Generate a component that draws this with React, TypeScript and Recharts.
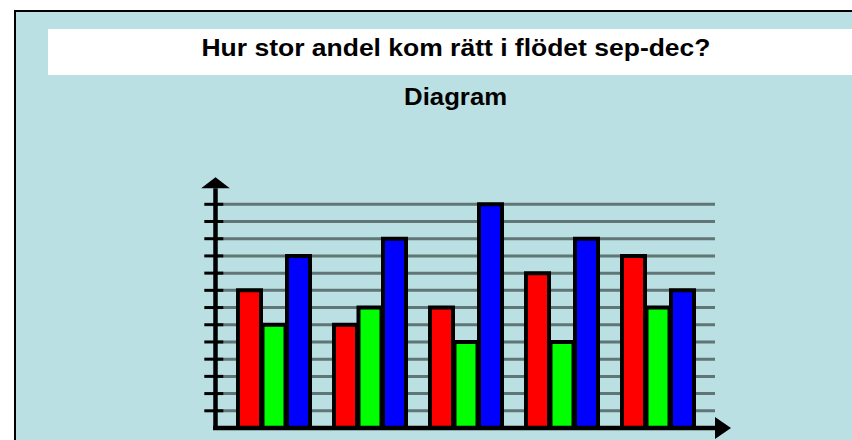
import React from 'react';
import { BarChart, Bar, XAxis, YAxis, CartesianGrid, Label } from 'recharts';

const categories = ['Grupp 1', 'Grupp 2', 'Grupp 3', 'Grupp 4', 'Grupp 5'];
const redValues = [8, 6, 7, 9, 10];
const greenValues = [6, 7, 5, 5, 7];
const blueValues = [10, 11, 13, 11, 8];
const yTicks = [1, 2, 3, 4, 5, 6, 7, 8, 9, 10, 11, 12, 13];
const titleText = 'Hur stor andel kom rätt i flödet sep-dec?';
const subtitleText = 'Diagram';

const data = categories.map((name, i) => ({
  name,
  red: redValues[i],
  green: greenValues[i],
  blue: blueValues[i],
}));

const BG = '#bbe0e3';
const GRID = '#607575';
const FONT = '"Liberation Sans", Arial, sans-serif';

const YTick = (props: any) => {
  const { x, y } = props;
  return <line x1={x - 11.2} x2={x + 7.8} y1={y} y2={y} stroke="#000" strokeWidth={3} />;
};

const YAxisArrow = (props: any) => {
  const vb = props.viewBox || {};
  const ax = vb.x + vb.width;
  const top = vb.y;
  const bottom = vb.y + vb.height;
  return (
    <g>
      <line x1={ax} x2={ax} y1={bottom + 2} y2={top - 16} stroke="#000" strokeWidth={4.5} />
      <polygon points={`${ax - 14.3},${top - 16} ${ax},${top - 27} ${ax + 14.3},${top - 16}`} fill="#000" />
    </g>
  );
};

const XAxisArrow = (props: any) => {
  const vb = props.viewBox || {};
  const ay = vb.y;
  const left = vb.x;
  const right = vb.x + vb.width;
  return (
    <g>
      <line x1={left - 2.5} x2={right + 1} y1={ay} y2={ay} stroke="#000" strokeWidth={4.5} />
      <polygon points={`${right},${ay - 11} ${right + 16},${ay} ${right},${ay + 11}`} fill="#000" />
    </g>
  );
};

export default function App() {
  return (
    <div style={{ position: 'absolute', left: 0, top: 0, width: 852, height: 440, overflow: 'hidden', background: '#fff' }}>
      <div
        style={{
          position: 'absolute',
          left: 14,
          top: 10,
          width: 900,
          height: 500,
          background: BG,
          borderLeft: '2px solid #000',
          borderTop: '2px solid #000',
        }}
      />
      <div style={{ position: 'absolute', left: 48, top: 29, width: 820, height: 46, background: '#fff' }} />
      <svg style={{ position: 'absolute', left: 0, top: 0 }} width={852} height={120}>
        <text
          x={456}
          y={55.7}
          textAnchor="middle"
          fontFamily={FONT}
          fontWeight="bold"
          fontSize={23}
          fill="#000"
          textLength={509}
          lengthAdjust="spacingAndGlyphs"
        >
          {titleText}
        </text>
        <text
          x={455.6}
          y={105}
          textAnchor="middle"
          fontFamily={FONT}
          fontWeight="bold"
          fontSize={23}
          fill="#000"
          textLength={103}
          lengthAdjust="spacingAndGlyphs"
        >
          {subtitleText}
        </text>
      </svg>
      <div style={{ position: 'absolute', left: 0, top: 0 }}>
        <BarChart
          width={852}
          height={440}
          data={data}
          margin={{ top: 204.3, right: 137, bottom: 0, left: 195.5 }}
          barGap={1.5}
        >
          <CartesianGrid horizontal vertical={false} stroke={GRID} strokeWidth={3} />
          <Bar dataKey="red" fill="#ff0000" stroke="#000" strokeWidth={4} barSize={23} isAnimationActive={false} />
          <Bar dataKey="green" fill="#00ff00" stroke="#000" strokeWidth={4} barSize={23} isAnimationActive={false} />
          <Bar dataKey="blue" fill="#0000ff" stroke="#000" strokeWidth={4} barSize={23} isAnimationActive={false} />
          <XAxis
            dataKey="name"
            height={12}
            padding={{ left: 10.5, right: 9 }}
            tick={false}
            tickLine={false}
            axisLine={false}
          >
            <Label content={XAxisArrow} />
          </XAxis>
          <YAxis
            type="number"
            domain={[0, 13]}
            ticks={yTicks}
            interval={0}
            width={20}
            tickSize={0}
            tickMargin={0}
            tickLine={false}
            axisLine={false}
            tick={YTick}
          >
            <Label content={YAxisArrow} />
          </YAxis>
        </BarChart>
      </div>
    </div>
  );
}
